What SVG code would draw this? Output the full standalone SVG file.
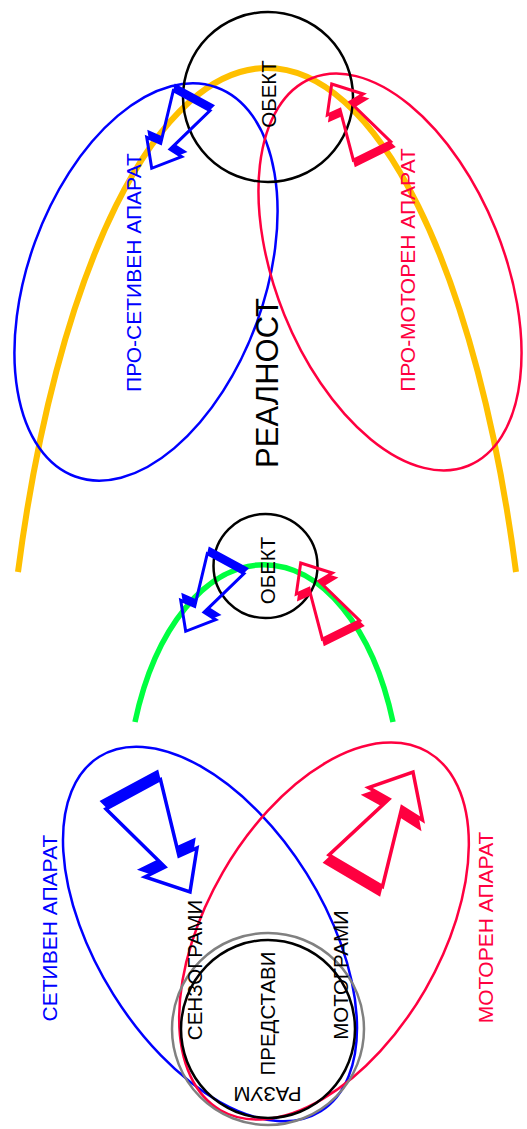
<svg xmlns="http://www.w3.org/2000/svg" xmlns:xlink="http://www.w3.org/1999/xlink" width="527" height="1129" viewBox="0 0 527 1129">
<style>
.t{font-family:"Liberation Sans",Arial,sans-serif;font-size:21px;text-anchor:middle}
.s{font-size:20.5px}
.blk{fill:#000}.bl{fill:#0000FF}.rd{fill:#FF0040}
.ln{fill:none;stroke-width:2.5}
.sb{fill:#0000FF;stroke:#0000FF;stroke-width:3;stroke-linejoin:miter}
.ob{fill:none;stroke:#0000FF;stroke-width:3;stroke-linejoin:miter}
.sr{fill:#FF0040;stroke:#FF0040;stroke-width:3;stroke-linejoin:miter}
.or{fill:none;stroke:#FF0040;stroke-width:3;stroke-linejoin:miter}
</style>
<defs>
<polygon id="pb" points="173.3,90.7 160.7,143.3 146.7,137.3 151.7,168.3 181.7,156.7 170,149.3 210,110.7"/>
<polygon id="pr" points="331.7,84 363.3,94 350,102 390.7,141.7 353.3,160 340,109.3 327.3,115"/>
<polygon id="pbb" points="106,809 165,867 145,877 190,892 197,848 179,856 160.5,779.5"/>
<polygon id="prb" points="413,772 422.5,820 402,807 382.5,886.5 329,855 389,799 368.5,787.5"/>
<mask id="mb" maskUnits="userSpaceOnUse" x="-1000" y="-1000" width="3000" height="3000"><rect x="-1000" y="-1000" width="3000" height="3000" fill="#fff"/><use xlink:href="#pb" fill="#000"/></mask>
<mask id="mr" maskUnits="userSpaceOnUse" x="-1000" y="-1000" width="3000" height="3000"><rect x="-1000" y="-1000" width="3000" height="3000" fill="#fff"/><use xlink:href="#pr" fill="#000"/></mask>
<mask id="mbb" maskUnits="userSpaceOnUse" x="-1000" y="-1000" width="3000" height="3000"><rect x="-1000" y="-1000" width="3000" height="3000" fill="#fff"/><use xlink:href="#pbb" fill="#000"/></mask>
<mask id="mrb" maskUnits="userSpaceOnUse" x="-1000" y="-1000" width="3000" height="3000"><rect x="-1000" y="-1000" width="3000" height="3000" fill="#fff"/><use xlink:href="#prb" fill="#000"/></mask>
<g id="arrowB"><g mask="url(#mb)"><use xlink:href="#pb" class="sb" transform="translate(2.5,-5)"/></g><use xlink:href="#pb" class="ob"/></g>
<g id="arrowR"><g mask="url(#mr)"><use xlink:href="#pr" class="sr" transform="translate(2.5,5)"/></g><use xlink:href="#pr" class="or"/></g>
</defs>
<rect width="527" height="1129" fill="#fff"/>

<g id="connectors">
<path id="reality-arc" d="M18,572 A266.4,782 0 0 1 516,572" fill="none" stroke="#FFC000" stroke-width="6"/>
<path id="mind-arc" d="M135,722 A137.5,240.5 0 0 1 393,722" fill="none" stroke="#00FF40" stroke-width="5.5"/>
</g>

<g id="pro-setiven-aparat">
<ellipse class="ln" stroke="#0000FF" cx="0" cy="0" rx="207" ry="118" transform="translate(146,282) rotate(-70)"/>
<text class="t bl" transform="translate(140.5,272.5) rotate(-90)">ПРО-СЕТИВЕН АПАРАТ</text>
</g>
<g id="pro-motoren-aparat">
<ellipse class="ln" stroke="#FF0040" cx="0" cy="0" rx="209" ry="114" transform="translate(390,272) rotate(68)"/>
<text class="t rd" transform="translate(415,270) rotate(-90)">ПРО-МОТОРЕН АПАРАТ</text>
</g>
<g id="obekt-top">
<circle class="ln" stroke="#000" cx="268" cy="97" r="85"/>
<text class="t s blk" transform="translate(276,94) rotate(-90)">ОБЕКТ</text>
</g>
<g id="realnost">
<text class="t blk" style="font-size:31px" transform="translate(278,383) rotate(-90)">РЕАЛНОСТ</text>
</g>
<g id="arrow-top-blue"><use xlink:href="#arrowB"/></g>
<g id="arrow-top-red"><use xlink:href="#arrowR"/></g>

<g id="obekt-middle">
<circle class="ln" stroke="#000" cx="265.5" cy="566" r="52"/>
<text class="t s blk" transform="translate(275,570.5) rotate(-90)">ОБЕКТ</text>
</g>
<g id="arrow-mid-blue"><use xlink:href="#arrowB" transform="translate(34,463)"/></g>
<g id="arrow-mid-red"><use xlink:href="#arrowR" transform="translate(-31,479)"/></g>

<g id="setiven-aparat">
<ellipse class="ln" stroke="#0000FF" cx="0" cy="0" rx="209" ry="114" transform="translate(210,934) rotate(58)"/>
<text class="t bl" transform="translate(57,928) rotate(-90)">СЕТИВЕН АПАРАТ</text>
</g>
<g id="motoren-aparat">
<ellipse class="ln" stroke="#FF0040" cx="0" cy="0" rx="207" ry="117" transform="translate(324,931) rotate(-60)"/>
<text class="t rd" transform="translate(493,927.5) rotate(-90)">МОТОРЕН АПАРАТ</text>
</g>
<g id="razum">
<circle class="ln" stroke="#808080" stroke-width="3" cx="268" cy="1029" r="96"/>
<ellipse class="ln" stroke="#000" cx="268" cy="1029" rx="87" ry="89"/>
<text class="t s blk" transform="translate(202,970) rotate(-90)">СЕНЗОГРАМИ</text>
<text class="t s blk" transform="translate(275,1013.5) rotate(-90)">ПРЕДСТАВИ</text>
<text class="t s blk" transform="translate(348,975) rotate(-90)">МОТОГРАМИ</text>
<text class="t s blk" transform="translate(267.5,1087) rotate(180)">РАЗУМ</text>
</g>
<g id="arrow-bottom-blue">
<g mask="url(#mbb)"><use xlink:href="#pbb" class="sb" style="stroke-width:3.5" transform="translate(-3.5,-7.5)"/></g>
<use xlink:href="#pbb" class="ob" style="stroke-width:3.5"/>
</g>
<g id="arrow-bottom-red">
<g mask="url(#mrb)"><use xlink:href="#prb" class="sr" style="stroke-width:3.5" transform="translate(-3.5,7.5)"/></g>
<use xlink:href="#prb" class="or" style="stroke-width:3.5"/>
</g>
</svg>
